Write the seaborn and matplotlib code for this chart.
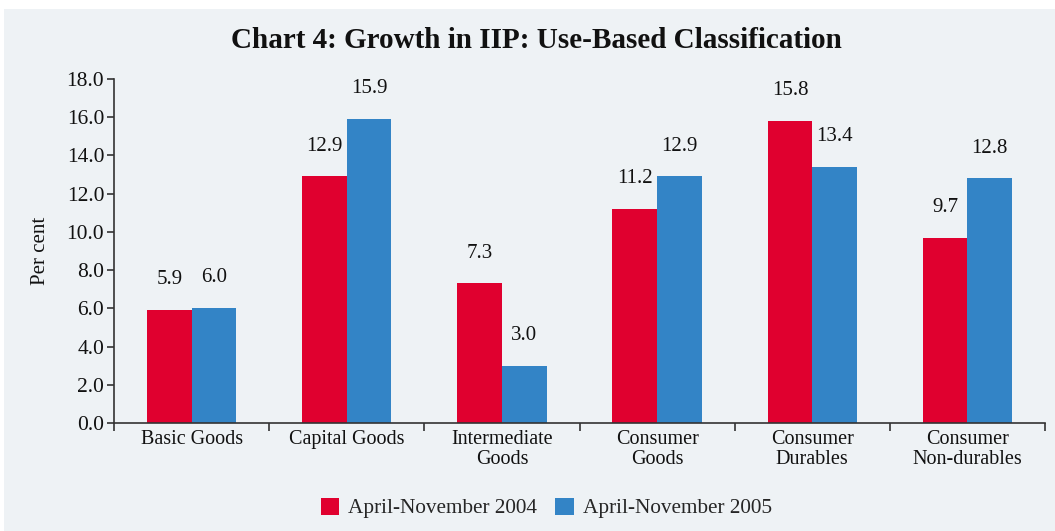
import pandas as pd
import seaborn as sns
import matplotlib.pyplot as plt
from matplotlib.patches import Rectangle
from matplotlib.ticker import FixedLocator

categories = ["Basic Goods", "Capital Goods", "Intermediate\nGoods",
              "Consumer\nGoods", "Consumer\nDurables", "Consumer\nNon-durables"]
series_names = ["April-November 2004", "April-November 2005"]
values_2004 = [5.9, 12.9, 7.3, 11.2, 15.8, 9.7]
values_2005 = [6.0, 15.9, 3.0, 12.9, 13.4, 12.8]
y_ticks = [0, 2, 4, 6, 8, 10, 12, 14, 16, 18]

df = pd.DataFrame({
    "category": categories * 2,
    "series": [series_names[0]] * 6 + [series_names[1]] * 6,
    "value": values_2004 + values_2005,
})

bg = "#EEF2F5"
colors = ["#E0002F", "#3384C6"]

sns.set_theme(style="white")
plt.rcParams["font.family"] = ["Liberation Serif", "DejaVu Serif"]

fig = plt.figure(figsize=(10.55, 5.31), dpi=100, facecolor="white")
# light panel behind the chart, leaving a thin white strip on top/left
fig.patches.append(Rectangle((0.004, 0), 0.996, 1 - 9 / 531, transform=fig.transFigure,
                             facecolor=bg, edgecolor="none", zorder=-1))
ax = fig.add_axes([114 / 1055, 1 - 423 / 531, 931 / 1055, 344 / 531])
ax.set_facecolor(bg)

sns.barplot(data=df, x="category", y="value", hue="series", palette=colors,
            width=0.575, gap=0, saturation=1, linewidth=0, ax=ax, legend=True)

for cont in ax.containers:
    ax.bar_label(cont, fmt="%.1f", padding=15, fontsize=15, color="#111111")

ax.set_ylim(0, 18)
ax.set_yticks(y_ticks)
ax.set_yticklabels([f"{t:.1f}" for t in y_ticks], fontsize=15.5, color="#111111")
ax.set_xlim(-0.5, 5.5)

# ticks at category boundaries, labels at centres
ax.xaxis.set_major_locator(FixedLocator([i - 0.5 for i in range(7)]))
ax.xaxis.set_minor_locator(FixedLocator(list(range(6))))
ax.set_xticklabels([""] * 7)
ax.set_xticklabels(categories, minor=True, fontsize=14.5, color="#111111", linespacing=1.1)
ax.tick_params(axis="x", which="major", direction="out", length=6, width=1.2,
               color="#333333", bottom=True)
ax.tick_params(axis="x", which="minor", length=0, pad=5)
ax.tick_params(axis="y", direction="out", length=5, width=1.2, color="#333333",
               left=True, pad=2)

for side in ["top", "right"]:
    ax.spines[side].set_visible(False)
for side in ["left", "bottom"]:
    ax.spines[side].set_color("#333333")
    ax.spines[side].set_linewidth(1.2)

ax.set_xlabel("")
ax.set_ylabel("Per cent", fontsize=15, color="#111111", labelpad=12)

handles, labels = ax.get_legend_handles_labels()
ax.get_legend().remove()
fig.legend(handles, labels, loc="center", bbox_to_anchor=(0.518, 1 - 508 / 531), ncol=2,
           frameon=False, fontsize=15.3, handlelength=0.85, handleheight=0.85,
           columnspacing=0.85, handletextpad=0.45)

fig.text(0.508, 1 - 41 / 531, "Chart 4: Growth in IIP: Use-Based Classification",
         ha="center", va="center", fontsize=21, fontweight="bold", color="#111111")

fig.savefig("out.png", dpi=100, facecolor=fig.get_facecolor())
